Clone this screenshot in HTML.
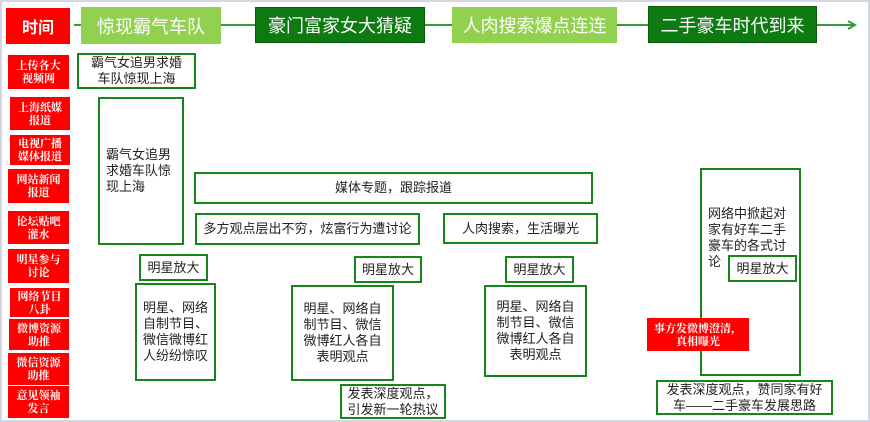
<!DOCTYPE html>
<html><head><meta charset="utf-8"><style>
body{margin:0;width:870px;height:422px;background:#fff;position:relative;overflow:hidden;font-family:"Liberation Sans","Noto Sans CJK SC",sans-serif}
.frame{position:absolute;left:0;top:0;width:866px;height:418px;border:2px solid #d4d6e4}
.b{position:absolute;box-sizing:border-box;border:2px solid #17861a;background:#fff;color:#222;font-size:13px;line-height:16px;display:flex;align-items:center;justify-content:center;text-align:center}
.r{position:absolute;box-sizing:border-box;background:#f00;color:#fff;font-family:"Noto Serif CJK SC",serif;font-weight:bold;font-size:11px;line-height:13px;display:flex;align-items:center;justify-content:center;text-align:center}
.h{position:absolute;box-sizing:border-box;color:#fff;font-size:18px;display:flex;align-items:center;justify-content:center}
.lg{background:#92d050}.dg{background:#0e7a12;border:1px solid #0a5a0a}
.ln{position:absolute;height:2px;background:#3a9a3a;top:24px}
</style></head><body>
<div class="frame"></div>
<div class="ln" style="left:74px;width:780px"></div>
<svg style="position:absolute;left:846px;top:20px" width="12" height="12"><path d="M2 1 L9 5 L2 9" fill="none" stroke="#3a9a3a" stroke-width="2"/></svg>
<div class="r" style="left:6px;top:8px;width:64px;height:36px;font-size:16px;font-family:'Noto Sans CJK SC',sans-serif">时间</div>
<div class="h lg" style="left:81px;top:7px;width:140px;height:37px">惊现霸气车队</div>
<div class="h dg" style="left:255px;top:7px;width:170px;height:36px">豪门富家女大猜疑</div>
<div class="h lg" style="left:452px;top:7px;width:165px;height:36px">人肉搜索爆点连连</div>
<div class="h dg" style="left:648px;top:6px;width:169px;height:37px">二手豪车时代到来</div>

<div class="r" style="left:8px;top:55px;width:61px;height:34px">上传各大<br>视频网</div>
<div class="r" style="left:10px;top:97px;width:60px;height:33px">上海纸媒<br>报道</div>
<div class="r" style="left:10px;top:135px;width:60px;height:30px">电视广播<br>媒体报道</div>
<div class="r" style="left:8px;top:169px;width:61px;height:34px">网站新闻<br>报道</div>
<div class="r" style="left:8px;top:211px;width:61px;height:33px">论坛贴吧<br>灌水</div>
<div class="r" style="left:8px;top:249px;width:61px;height:34px">明星参与<br>讨论</div>
<div class="r" style="left:10px;top:288px;width:59px;height:29px">网络节目<br>八卦</div>
<div class="r" style="left:9px;top:319px;width:60px;height:31px">微博资源<br>助推</div>
<div class="r" style="left:8px;top:353px;width:61px;height:32px">微信资源<br>助推</div>
<div class="r" style="left:8px;top:386px;width:61px;height:32px">意见领袖<br>发言</div>

<div class="b" style="left:77px;top:53px;width:119px;height:36px">霸气女追男求婚<br>车队惊现上海</div>
<div class="b" style="left:98px;top:97px;width:86px;height:148px;justify-content:flex-start;text-align:left;padding-left:6px">霸气女追男<br>求婚车队惊<br>现上海</div>
<div class="b" style="left:194px;top:172px;width:399px;height:32px">媒体专题，跟踪报道</div>
<div class="b" style="left:195px;top:213px;width:225px;height:32px">多方观点层出不穷，炫富行为遭讨论</div>
<div class="b" style="left:443px;top:213px;width:155px;height:31px">人肉搜索，生活曝光</div>
<div class="b" style="left:139px;top:254px;width:69px;height:27px">明星放大</div>
<div class="b" style="left:354px;top:256px;width:68px;height:27px">明星放大</div>
<div class="b" style="left:505px;top:256px;width:69px;height:27px">明星放大</div>
<div class="b" style="left:135px;top:283px;width:81px;height:98px">明星、网络<br>自制节目、<br>微信微博红<br>人纷纷惊叹</div>
<div class="b" style="left:291px;top:285px;width:103px;height:96px">明星、网络自<br>制节目、微信<br>微博红人各自<br>表明观点</div>
<div class="b" style="left:484px;top:285px;width:103px;height:92px">明星、网络自<br>制节目、微信<br>微博红人各自<br>表明观点</div>
<div class="b" style="left:340px;top:384px;width:106px;height:35px">发表深度观点，<br>引发新一轮热议</div>
<div class="b" style="left:700px;top:168px;width:101px;height:208px;align-items:flex-start;justify-content:flex-start;text-align:left;padding:36px 0 0 6px">网络中掀起对<br>家有好车二手<br>豪车的各式讨<br>论</div>
<div class="b" style="left:728px;top:255px;width:69px;height:27px">明星放大</div>
<div class="r" style="left:647px;top:318px;width:102px;height:33px">事方发微博澄清，<br>真相曝光</div>
<div class="b" style="left:656px;top:380px;width:177px;height:35px">发表深度观点，赞同家有好<br>车——二手豪车发展思路</div>
</body></html>
